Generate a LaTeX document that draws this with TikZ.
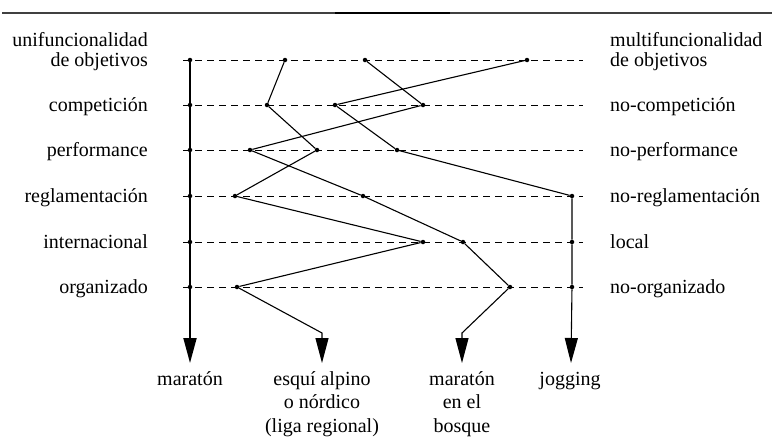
\documentclass[tikz,border=0pt]{standalone}
\usepackage{fontspec}
\setmainfont{Liberation Serif}
\usetikzlibrary{arrows.meta,positioning}

\begin{document}
\begin{tikzpicture}[
    x=1pt, y=-1pt,
    pt node/.style={circle, fill=black, inner sep=0pt, minimum size=4.5pt},
    row line/.style={line width=0.8pt, dash pattern=on 7pt off 5pt},
    path line/.style={line width=1.1pt, draw=black},
    main line/.style={line width=1.9pt, draw=black},
    big tip/.style={-{Triangle[length=25pt, width=13pt]}},
    side lbl/.style={inner sep=0pt, font=\fontsize{20}{17}\selectfont},
    foot lbl/.style={inner sep=0pt, align=center, font=\fontsize{20}{23.5}\selectfont}
]
\useasboundingbox (0,0) rectangle (772,442);

% regla superior
\coordinate (r0) at (2,13);
\coordinate (r1) at (772,13);
\coordinate (r2) at (335,13);
\coordinate (r3) at (450,13);
\draw[line width=1.2pt, black!75] (r0) -- (r1);
\draw[line width=2pt] (r2) -- (r3);

% filas, rótulos y puntos de cada deporte
\foreach \y/\l/\r/\m/\e/\b/\j [count=\i] in {
    60/de objetivos/de objetivos/190/285/365/527,
    105/competición/no-competición/190/267/423/335,
    150/performance/no-performance/190/317/250/397,
    196/reglamentación/no-reglamentación/190/235/363/572,
    242/internacional/local/190/423/463/572,
    287/organizado/no-organizado/190/237/510/572} {
  \coordinate (a\i) at (183,\y);
  \coordinate (b\i) at (583,\y);
  \draw[row line] (a\i) -- (b\i);
  \node[side lbl, anchor=base east] (lft\i) at (148,\y+6.5) {\l};
  \node[side lbl, anchor=base west] (rgt\i) at (610,\y+6.5) {\r};
  \node[pt node] (M\i) at (\m,\y) {};
  \node[pt node] (E\i) at (\e,\y) {};
  \node[pt node] (B\i) at (\b,\y) {};
  \node[pt node] (J\i) at (\j,\y) {};
}
\node[side lbl, anchor=base east] (lft0) at (148,46) {unifuncionalidad};
\node[side lbl, anchor=base west] (rgt0) at (610,46) {multifuncionalidad};

% codos y puntas
\coordinate (E7) at (322,333);
\coordinate (B7) at (462,333);
\coordinate (tM) at (190,363);
\coordinate (tE) at (322,363);
\coordinate (tB) at (462,363);
\coordinate (tJ) at (571,363);

% recorridos
\draw[main line, big tip] (M1) -- (tM);
\draw[path line, big tip] (E1) -- (E2) -- (E3) -- (E4) -- (E5) -- (E6) -- (E7) -- (tE);
\draw[path line, big tip] (B1) -- (B2) -- (B3) -- (B4) -- (B5) -- (B6) -- (B7) -- (tB);
\draw[path line, big tip] (J1) -- (J2) -- (J3) -- (J4) -- (J5) -- (J6) -- (tJ);

% deportes (base = última línea)
\node[foot lbl, anchor=base] (fM) at (190,385) {maratón};
\node[foot lbl, anchor=base] (fE) at (322,432) {esquí alpino\\o nórdico\\(liga regional)};
\node[foot lbl, anchor=base] (fB) at (462,432) {maratón\\en el\\bosque};
\node[foot lbl, anchor=base] (fJ) at (570,385) {jogging};

\end{tikzpicture}
\end{document}
